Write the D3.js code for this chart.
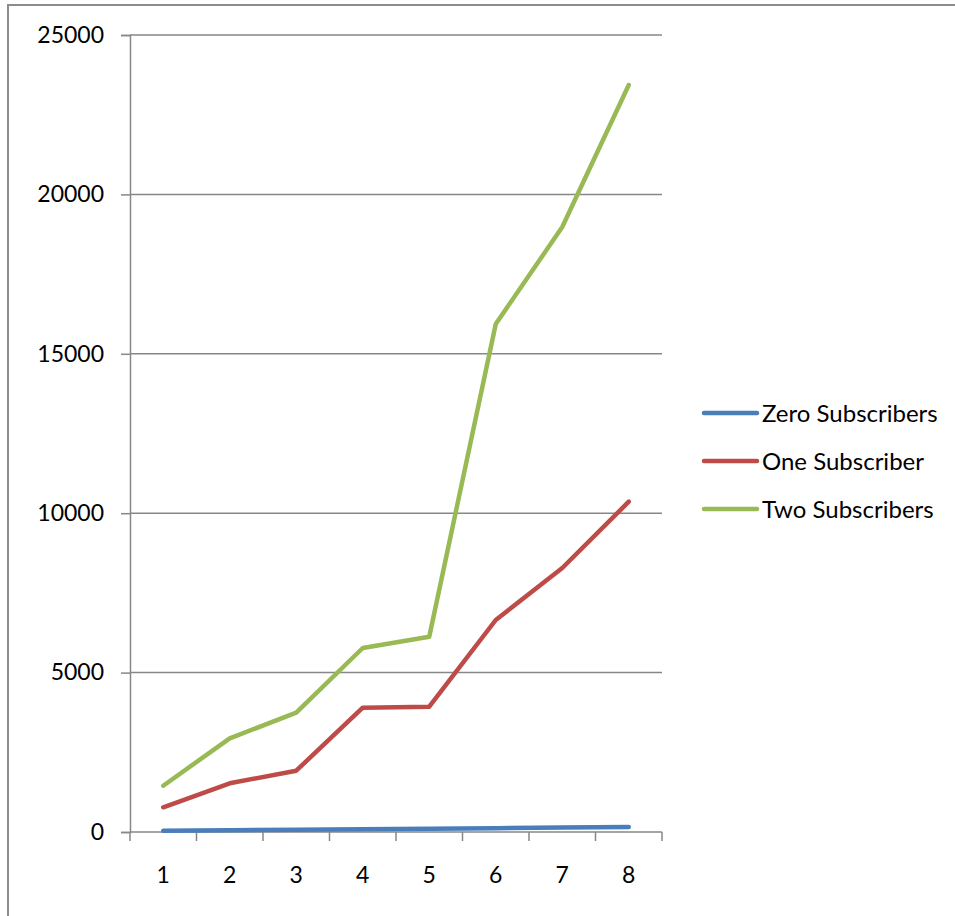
<!DOCTYPE html>
<html>
<head>
<meta charset="utf-8">
<script src="https://cdn.jsdelivr.net/npm/d3@7"></script>
<style>
  html, body { margin: 0; padding: 0; background: #fff; }
  svg { display: block; }
  text { font-family: Lato, "Open Sans", sans-serif; fill: #000; }
</style>
</head>
<body>
<svg id="chart" width="955" height="916"></svg>
<script>
// Categories along the x axis
const categories = [1, 2, 3, 4, 5, 6, 7, 8];

// Series values
const zeroSubscribers = [40, 55, 70, 85, 100, 118, 138, 157];
const oneSubscriber   = [775, 1528, 1923, 3899, 3930, 6650, 8281, 10361];
const twoSubscribers  = [1452, 2939, 3742, 5772, 6126, 15935, 18977, 23431];

const seriesNames  = ["Zero Subscribers", "One Subscriber", "Two Subscribers"];
const seriesColors = ["#4a7ebb", "#be4b48", "#98b954"];
const yTicks = [0, 5000, 10000, 15000, 20000, 25000];

const series = [zeroSubscribers, oneSubscriber, twoSubscribers].map((vals, i) => ({
  name: seriesNames[i], color: seriesColors[i], values: vals
}));

const svg = d3.select("#chart");
const plot = { left: 130, right: 662, top: 35, bottom: 832 };
const tickFont = 23;
const legendFont = 24;

// Outer chart frame
svg.append("rect")
  .attr("x", 8).attr("y", 5)
  .attr("width", 1000).attr("height", 1000)
  .attr("fill", "none").attr("stroke", "#8c8c8c").attr("stroke-width", 2);

const x = d3.scaleBand().domain(categories).range([plot.left, plot.right]).padding(0);
const y = d3.scaleLinear().domain([0, 25000]).range([plot.bottom, plot.top]);

const gridColor = "#878787";

// Horizontal gridlines
svg.append("g").selectAll("line").data(yTicks.filter(d => d > 0)).join("line")
  .attr("x1", plot.left).attr("x2", plot.right)
  .attr("y1", d => y(d)).attr("y2", d => y(d))
  .attr("stroke", gridColor).attr("stroke-width", 1.5);

// Y axis
const yAxis = svg.append("g")
  .attr("transform", `translate(${plot.left},0)`)
  .call(d3.axisLeft(y).tickValues(yTicks).tickSize(9).tickPadding(17).tickFormat(d3.format("d")));
yAxis.select(".domain").attr("stroke", gridColor).attr("stroke-width", 1.5);
yAxis.selectAll(".tick line").attr("stroke", gridColor).attr("stroke-width", 1.5);
yAxis.selectAll(".tick text").attr("font-size", tickFont)
  .attr("font-family", "Lato, 'Open Sans', sans-serif").attr("fill", "#000");

// X axis: ticks sit on band boundaries, labels at band centres
const xg = svg.append("g").attr("transform", `translate(0,${plot.bottom})`);
xg.append("line").attr("x1", plot.left).attr("x2", plot.right)
  .attr("stroke", gridColor).attr("stroke-width", 1.5);
const boundaries = categories.map(c => x(c)).concat([x(categories[categories.length - 1]) + x.bandwidth()]);
xg.selectAll("line.tk").data(boundaries).join("line").attr("class", "tk")
  .attr("x1", d => d).attr("x2", d => d).attr("y1", 0).attr("y2", 9)
  .attr("stroke", gridColor).attr("stroke-width", 1.5);
xg.selectAll("text").data(categories).join("text")
  .attr("x", d => x(d) + x.bandwidth() / 2).attr("y", 51)
  .attr("text-anchor", "middle").attr("font-size", tickFont).text(d => d);

// Series lines
const line = d3.line()
  .x((d, i) => x(categories[i]) + x.bandwidth() / 2)
  .y(d => y(d));

svg.append("g").selectAll("path").data(series).join("path")
  .attr("d", d => line(d.values))
  .attr("fill", "none").attr("stroke", d => d.color)
  .attr("stroke-width", 4.5).attr("stroke-linecap", "round").attr("stroke-linejoin", "round");

// Legend
const legend = svg.append("g").attr("transform", "translate(704,413)");
const li = legend.selectAll("g").data(series).join("g")
  .attr("transform", (d, i) => `translate(0,${i * 48})`);
li.append("line").attr("x1", 0).attr("x2", 53)
  .attr("stroke", d => d.color).attr("stroke-width", 4.5).attr("stroke-linecap", "round");
li.append("text").attr("x", 58).attr("y", 9).attr("font-size", legendFont).text(d => d.name);
</script>
</body>
</html>
